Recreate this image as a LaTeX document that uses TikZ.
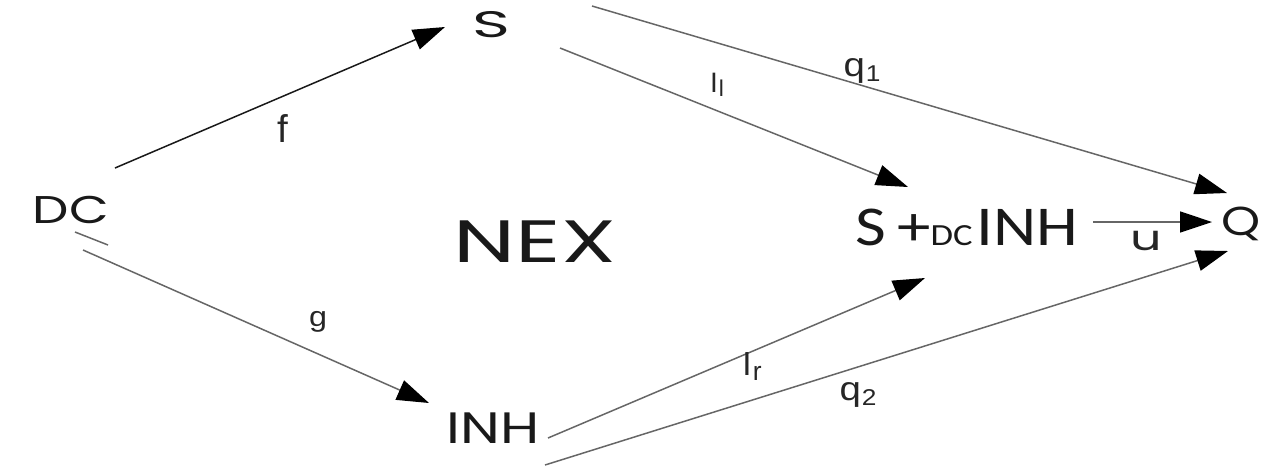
\documentclass[tikz,border=0pt]{standalone}
\usepackage{fontspec}
\usepackage{graphicx}
\setmainfont{Poppins}
\newfontfamily\calfont{Carlito}
\newfontfamily\arfont{Liberation Sans}
\usetikzlibrary{arrows.meta}
\newcommand{\mysub}[2]{\raisebox{-0.3ex}{\fontsize{#1}{#1}\selectfont\kern0.04em #2}}
\begin{document}
\begin{tikzpicture}[x=0.02cm,y=-0.02cm,
  txt/.style={inner sep=0pt, anchor=base, text=black!90},
  lbl/.style={inner sep=0pt, anchor=base, text=black!85, font=\arfont\fontsize{19}{20}\selectfont},
  conn/.style={draw=black!60, line width=0.85pt, -{Triangle[length=0.64cm,width=0.42cm,color=black]}}]
\useasboundingbox (0,0) rectangle (1261,468);
\fill[white] (0,0) rectangle (1261,468);

\node[txt, font=\fontsize{22}{24}\selectfont] (DC) at (71,223) {\scalebox{1.33}[1]{DC}};
\node[txt, font=\fontsize{21}{22}\selectfont] (S) at (491,37) {\scalebox{1.75}[1]{S}};
\node[txt, font=\fontsize{34}{36}\selectfont] (NEX) at (535,262) {\scalebox{1.48}[1]{NEX}};
\node[txt, font=\fontsize{25}{27}\selectfont] (INH) at (493,443) {\scalebox{1.29}[1]{INH}};
\node[txt, font=\fontsize{23}{25}\selectfont] (Q) at (1241,235) {\scalebox{1.23}[1]{Q}};
\node[txt, font=\calfont\fontsize{32}{34}\selectfont] (SI) at (967,245) {\scalebox{1.19}[1]{S\,+{\fontsize{17.5}{19}\selectfont DC}\kern0.06em INH}};

% connectors
\draw[conn, draw=black!90] ([shift={(44,-55)}]DC.base) -- ([shift={(-46,-10)}]S.base);
\draw[conn] ([shift={(12,27)}]DC.base) -- ([shift={(-64,-40)}]INH.base);
\draw[draw=black!60, line width=0.85pt] ([shift={(4,9)}]DC.base) -- ([shift={(37,22)}]DC.base);
\draw[conn] ([shift={(69,11)}]S.base) -- ([shift={(-59,-58)}]SI.base);
\draw[conn] ([shift={(101,-31)}]S.base) -- ([shift={(-14,-42)}]Q.base);
\draw[conn] ([shift={(55,-5)}]INH.base) -- ([shift={(-42,33)}]SI.base);
\draw[conn] ([shift={(52,22)}]INH.base) -- ([shift={(-13,16)}]Q.base);
\draw[conn] ([shift={(126,-23)}]SI.base) -- ([shift={(-29,-13)}]Q.base);

% labels
\node[lbl, font=\arfont\fontsize{22}{24}\selectfont] (lf) at (283,142) {f};
\node[lbl, font=\arfont\fontsize{16}{18}\selectfont] (lg) at (318,326) {\scalebox{1.15}[1]{g}};
\node[lbl, font=\arfont\fontsize{16}{18}\selectfont] (lil) at (717,92) {I\mysub{13}{l}};
\node[lbl, font=\arfont\fontsize{19}{20}\selectfont] (lir) at (752,375) {I\mysub{15}{r}};
\node[lbl] (lq1) at (862,76) {\scalebox{1.15}[1]{q\mysub{13}{1}}};
\node[lbl] (lq2) at (858,400) {\scalebox{1.15}[1]{q\mysub{13}{2}}};
\node[lbl, font=\fontsize{20}{22}\selectfont] (lu) at (1146,250) {\scalebox{1.4}[1]{u}};
\end{tikzpicture}
\end{document}
